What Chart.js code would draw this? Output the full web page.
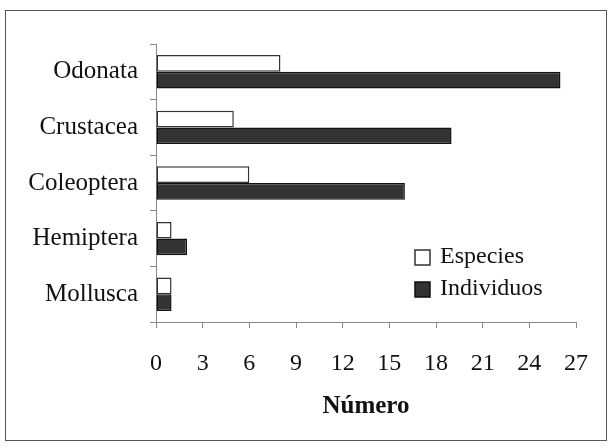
<!DOCTYPE html>
<html>
<head>
<meta charset="utf-8">
<script src="https://cdn.jsdelivr.net/npm/chart.js@4"></script>
<style>
html, body { margin: 0; padding: 0; background: #fff; }
#wrap { position: relative; width: 609px; height: 448px; }
#frame { position: absolute; left: 5px; top: 10px; width: 600px; height: 429px; border: 1px solid #555; pointer-events: none; }
</style>
</head>
<body>
<div id="wrap">
    <canvas id="myChart" width="609" height="448"></canvas>
    <div id="frame"></div>
</div>
<script>
var categorias = ["Odonata", "Crustacea", "Coleoptera", "Hemiptera", "Mollusca"];
var especies = [8, 5, 6, 1, 1];
var individuos = [26, 19, 16, 2, 1];
var ejeMin = 0;
var ejeMax = 27;
var ejePaso = 3;

document.addEventListener("DOMContentLoaded", function() {

    var serif = '"Liberation Serif", "Times New Roman", serif';

    // leyenda dentro del área del gráfico, abajo a la derecha
    var leyenda = {
        id: 'leyenda',
        afterDraw: function(chart) {
            var ctx = chart.ctx;
            var ca = chart.chartArea;
            var x0 = ca.left + 259;
            var y0 = ca.top + 206;
            chart.data.datasets.forEach(function(ds, i) {
                var y = y0 + i * 32;
                ctx.save();
                ctx.fillStyle = ds.backgroundColor;
                ctx.fillRect(x0, y, 15, 15);
                ctx.strokeStyle = ds.borderColor;
                ctx.lineWidth = 1.5;
                ctx.strokeRect(x0, y, 15, 15);
                ctx.fillStyle = '#111';
                ctx.font = '24px ' + serif;
                ctx.textBaseline = 'middle';
                ctx.fillText(ds.label, x0 + 25, y + 7);
                ctx.restore();
            });
        }
    };

    var ctx = document.getElementById('myChart').getContext('2d');
    var myChart = new Chart(ctx, {
        type: 'bar',
        data: {
            labels: categorias,
            datasets: [{
                label: "Especies",
                data: especies,
                backgroundColor: "#ffffff",
                borderColor: "#333333",
                borderWidth: 1.5,
                borderSkipped: false,
                categoryPercentage: 0.6,
                barPercentage: 1.0
            }, {
                label: "Individuos",
                data: individuos,
                backgroundColor: "#333333",
                borderColor: "#111111",
                borderWidth: 1.5,
                borderSkipped: false,
                categoryPercentage: 0.6,
                barPercentage: 1.0
            }]
        },
        options: {
            indexAxis: 'y',
            responsive: false,
            animation: false,
            layout: {
                padding: { top: 44, right: 27, left: 0, bottom: 0 }
            },
            scales: {
                x: {
                    min: ejeMin,
                    max: ejeMax,
                    afterFit: function(scale) { scale.height = 126; },
                    ticks: {
                        stepSize: ejePaso,
                        padding: 21,
                        color: '#111',
                        font: { family: serif, size: 24 }
                    },
                    grid: {
                        drawOnChartArea: false,
                        drawTicks: true,
                        tickLength: 6,
                        color: '#888'
                    },
                    border: { display: true, color: '#888', width: 1 },
                    title: {
                        display: true,
                        text: 'Número',
                        color: '#111',
                        padding: { top: 0, bottom: 26 },
                        font: { family: serif, size: 25, weight: 'bold' }
                    }
                },
                y: {
                    afterFit: function(scale) { scale.width = 156; },
                    ticks: {
                        padding: 12,
                        color: '#111',
                        font: { family: serif, size: 25 }
                    },
                    grid: {
                        offset: true,
                        drawOnChartArea: false,
                        drawTicks: true,
                        tickLength: 6,
                        color: '#888'
                    },
                    border: { display: true, color: '#888', width: 1 }
                }
            },
            plugins: {
                legend: { display: false },
                tooltip: { enabled: false }
            }
        },
        plugins: [leyenda]
    });
});
</script>
</body>
</html>
